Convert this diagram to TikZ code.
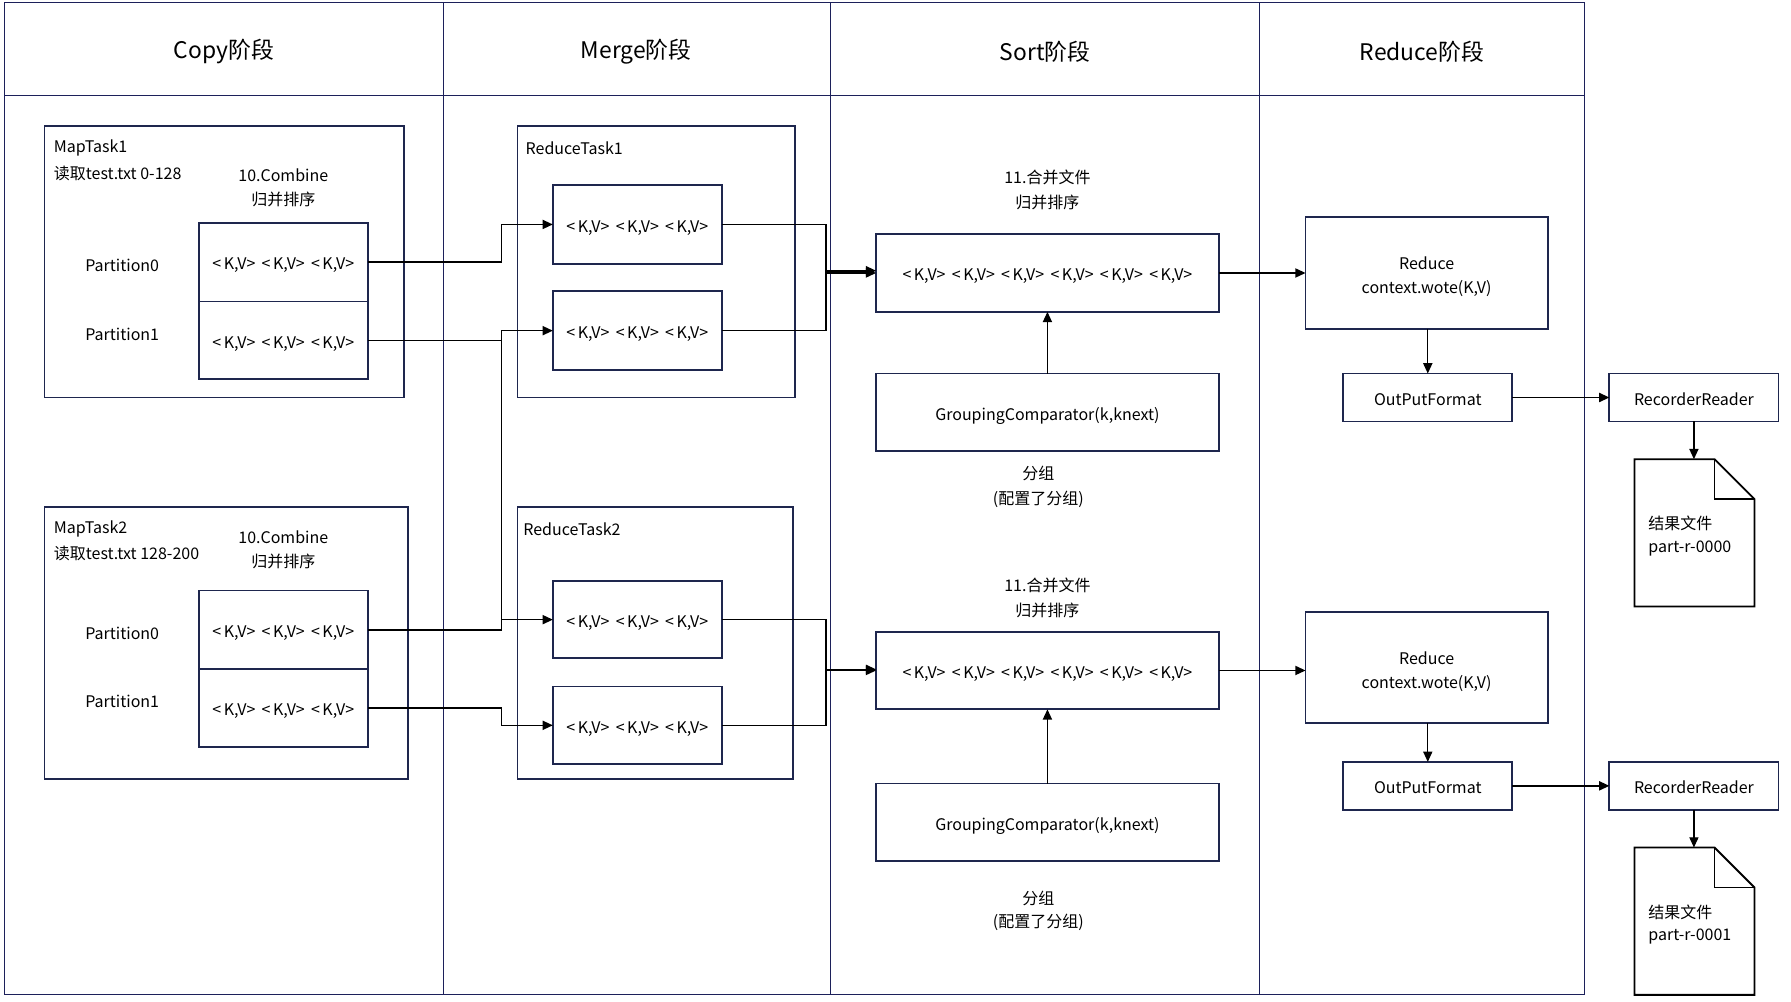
\documentclass[tikz,border=0pt]{standalone}
\usepackage{fontspec}
\setmainfont{Noto Sans CJK SC}
\usetikzlibrary{arrows.meta,calc}
\definecolor{framec}{RGB}{28,32,90}
\definecolor{boxc}{RGB}{30,38,78}
\newcommand\kvp{<\kern2.2pt K,V>}
\newcommand\kvsep{\kern5.5pt}
\newcommand\kvthree{\kvp\kvsep\kvp\kvsep\kvp}
\newcommand\kvsix{\kvp\kvsep\kvp\kvsep\kvp\kvsep\kvp\kvsep\kvp\kvsep\kvp}
\tikzset{
  frame/.style={draw=framec, line width=0.9pt},
  bx/.style={draw=boxc, line width=1.6pt, inner sep=0pt, outer sep=0pt, align=center, font=\fontsize{14}{17}\selectfont},
  bxs/.style={bx, text height=15pt, text depth=1.5pt},
  lbl/.style={inner sep=0pt, yshift=-1.5pt, font=\fontsize{14}{17}\selectfont},
  hdr/.style={inner sep=0pt, yshift=-1pt, font=\fontsize{20}{24}\selectfont},
  arr/.style={draw=black, line width=1.4pt, -{Triangle[length=9pt,width=8pt]}},
  arrthin/.style={draw=black, line width=1.1pt, -{Triangle[length=9pt,width=8pt]}},
  fileshape/.style={draw=black, line width=1.6pt, fill=white},
}
\begin{document}
\begin{tikzpicture}[x=1pt,y=-1pt]
\useasboundingbox (0,0) rectangle (1568,877);
% frame
\draw[frame] (4,2) rectangle (1387,871);
\draw[frame] (4,84) -- (1387,84);
\draw[frame] (388,2) -- (388,871);
\draw[frame] (727,2) -- (727,871);
\draw[frame] (1103,2) -- (1103,871);
% headers
\node[hdr] (h1) at (196,44) {Copy阶段};
\node[hdr] (h2) at (557,44) {Merge阶段};
\node[hdr] (h3) at (915,44) {Sort阶段};
\node[hdr] (h4) at (1245,44) {Reduce阶段};

% MapTask1
\node[bx, minimum width=315pt, minimum height=238pt] (mt1) at (196.5,229) {};
\node[lbl, anchor=west] (mt1a) at (47,128) {MapTask1};
\node[lbl, anchor=west] (mt1b) at (47,150) {读取test.txt 0-128};
\node[lbl] (mt1c) at (248,152) {10.Combine};
\node[lbl] (mt1d) at (248,173) {归并排序};
\node[bxs, minimum width=148pt, minimum height=69pt] (p10) at (248,229.5) {\kvthree};
\node[bxs, minimum width=148pt, minimum height=68pt] (p11) at (248,298) {\kvthree};
\node[lbl] (pl10) at (107,231) {Partition0};
\node[lbl] (pl11) at (107,291) {Partition1};

% MapTask2
\node[bx, minimum width=318pt, minimum height=238pt] (mt2) at (198,563) {};
\node[lbl, anchor=west] (mt2a) at (47,462) {MapTask2};
\node[lbl, anchor=west] (mt2b) at (47,483) {读取test.txt 128-200};
\node[lbl] (mt2c) at (248,469) {10.Combine};
\node[lbl] (mt2d) at (248,490) {归并排序};
\node[bxs, minimum width=148pt, minimum height=69pt] (p20) at (248,551.5) {\kvthree};
\node[bxs, minimum width=148pt, minimum height=68pt] (p21) at (248,620) {\kvthree};
\node[lbl] (pl20) at (107,553) {Partition0};
\node[lbl] (pl21) at (107,613) {Partition1};

% ReduceTask1
\node[bx, minimum width=243pt, minimum height=238pt] (rt1) at (574.5,229) {};
\node[lbl, anchor=west] (rt1a) at (460,128) {ReduceTask1};
\node[bxs, minimum width=148pt, minimum height=69pt] (r11) at (558,196.5) {\kvthree};
\node[bxs, minimum width=148pt, minimum height=69pt] (r12) at (558,289.5) {\kvthree};

% ReduceTask2
\node[bx, minimum width=241pt, minimum height=238pt] (rt2) at (573.5,563) {};
\node[lbl, anchor=west] (rt2a) at (458,462) {ReduceTask2};
\node[bxs, minimum width=148pt, minimum height=67pt] (r21) at (558,542.5) {\kvthree};
\node[bxs, minimum width=148pt, minimum height=68pt] (r22) at (558,635) {\kvthree};

% Sort
\node[lbl] (st1) at (917,154) {11.合并文件};
\node[lbl] (st2) at (917,176) {归并排序};
\node[bxs, minimum width=300pt, minimum height=68pt] (s1) at (917,239) {\kvsix};
\node[bxs, minimum width=300pt, minimum height=68pt] (g1) at (917,361) {GroupingComparator(k,knext)};
\node[lbl] (gl1) at (909,413) {分组};
\node[lbl] (gl2) at (909,436) {(配置了分组)};
\node[lbl] (st3) at (917,511) {11.合并文件};
\node[lbl] (st4) at (917,533) {归并排序};
\node[bxs, minimum width=300pt, minimum height=68pt] (s2) at (917,587) {\kvsix};
\node[bxs, minimum width=300pt, minimum height=68pt] (g2) at (917,720) {GroupingComparator(k,knext)};
\node[lbl] (gl3) at (909,785) {分组};
\node[lbl] (gl4) at (909,806) {(配置了分组)};

% Reduce
\node[bx, minimum width=212pt, minimum height=98pt] (red1) at (1249,239) {};
\node[lbl] (red1a) at (1249,229) {Reduce};
\node[lbl] (red1b) at (1249,251) {context.wote(K,V)};
\node[bxs, minimum width=148pt, minimum height=42pt] (o1) at (1250,348) {OutPutFormat};
\node[bxs, minimum width=148pt, minimum height=42pt] (rr1) at (1483,348) {RecorderReader};
\node[bx, minimum width=212pt, minimum height=97pt] (red2) at (1249,584.5) {};
\node[lbl] (red2a) at (1249,575) {Reduce};
\node[lbl] (red2b) at (1249,597) {context.wote(K,V)};
\node[bxs, minimum width=148pt, minimum height=42pt] (o2) at (1250,688) {OutPutFormat};
\node[bxs, minimum width=148pt, minimum height=42pt] (rr2) at (1483,688) {RecorderReader};

% files
\draw[fileshape] (1431,402) -- (1501,402) -- (1536,437) -- (1536,531) -- (1431,531) -- cycle;
\draw[fileshape, fill=none] (1501,402) -- (1501,437) -- (1536,437);
\coordinate (f1t) at (1483,402);
\node[lbl, anchor=west] (f1a) at (1443,457) {结果文件};
\node[lbl, anchor=west] (f1b) at (1443,479) {part-r-0000};
\draw[fileshape] (1431,742) -- (1501,742) -- (1536,777) -- (1536,871) -- (1431,871) -- cycle;
\draw[fileshape, fill=none] (1501,742) -- (1501,777) -- (1536,777);
\coordinate (f2t) at (1483,742);
\node[lbl, anchor=west] (f2a) at (1443,797) {结果文件};
\node[lbl, anchor=west] (f2b) at (1443,818) {part-r-0001};

% connectors: copy -> merge
\draw[arr] (p10.east) -| ([xshift=-45pt]r11.west) -- (r11.west);
\draw[arr] (p11.east) -| ([xshift=-45pt]r21.west) -- (r21.west);
\draw[arr] (p20.east) -| ([xshift=-45pt]r12.west) -- (r12.west);
\draw[arr] (p21.east) -| ([xshift=-45pt]r22.west) -- (r22.west);
% merge -> sort
\draw[arr] (r11.east) -| ([xshift=-44pt]s1.west) -- (s1.west);
\draw[arr] (r12.east) -| ([xshift=-44pt,yshift=2pt]s1.west) -- ([yshift=2pt]s1.west);
\draw[arr] (r21.east) -| ([xshift=-44pt]s2.west) -- (s2.west);
\draw[arr] (r22.east) -| ([xshift=-44pt,yshift=1pt]s2.west) -- ([yshift=1pt]s2.west);
% sort
\draw[arrthin] (g1.north) -- (s1.south);
\draw[arrthin] (g2.north) -- (s2.south);
\draw[arr] (s1.east) -- (s1.east -| red1.west);
\draw[arr] (s2.east) -- (s2.east -| red2.west);
% reduce
\draw[arrthin] (red1.south -| o1.north) -- (o1.north);
\draw[arrthin] (red2.south -| o2.north) -- (o2.north);
\draw[arr] (o1.east) -- (rr1.west);
\draw[arr] (o2.east) -- (rr2.west);
\draw[arrthin] (rr1.south) -- (f1t);
\draw[arrthin] (rr2.south) -- (f2t);
\end{tikzpicture}
\end{document}
